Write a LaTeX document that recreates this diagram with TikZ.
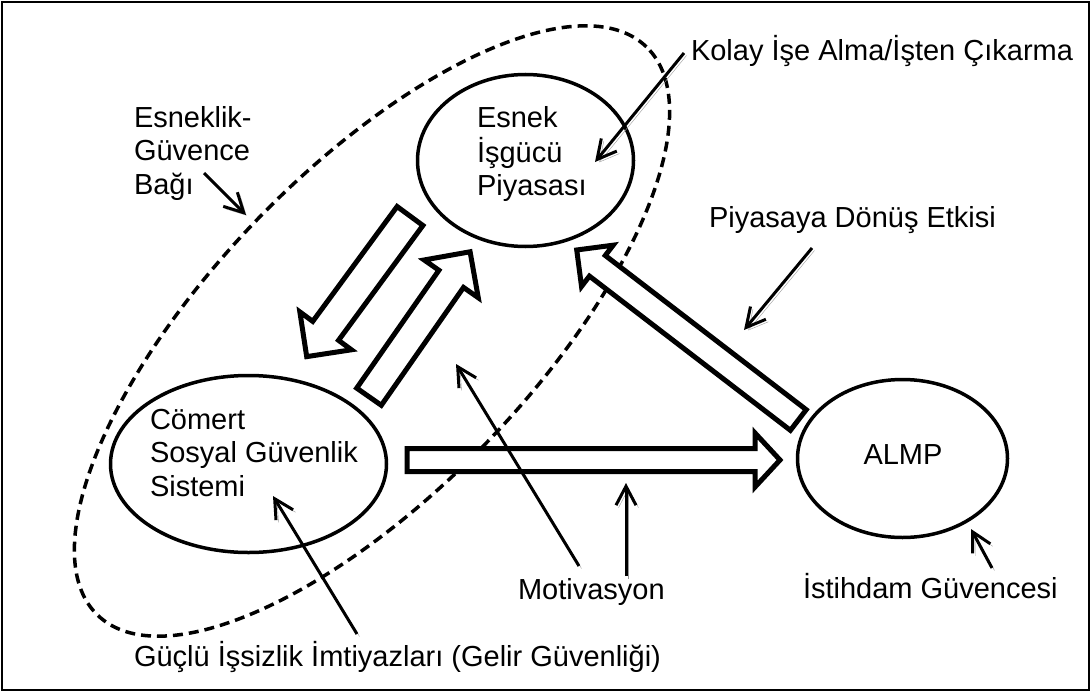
\documentclass[tikz,border=0pt]{standalone}
\usepackage{fontspec}
\setmainfont{Liberation Sans}
\usetikzlibrary{shapes.geometric, arrows.meta}
\newcommand{\stk}[1]{\begin{tabular}[t]{@{}l@{}}#1\end{tabular}}
% block arrow: #1 tail, #2 angle, #3 length, #4 shaft width, #5 head width, #6 head length
\newcommand{\blkarrow}[6]{%
  \begin{scope}[shift={#1}, rotate=#2]
    \draw[blk] (0,-#4/2) -- ({#3-#6},-#4/2) -- ({#3-#6},-#5/2) -- (#3,0)
      -- ({#3-#6},#5/2) -- ({#3-#6},#4/2) -- (0,#4/2) -- cycle;
  \end{scope}}
\begin{document}
\begin{tikzpicture}[x=1pt,y=-1pt,
  every node/.style={font=\fontsize{29}{33.5}\selectfont, inner sep=0pt, outer sep=0pt},
  oval/.style={draw, ellipse, line width=3.5pt},
  blk/.style={draw, line width=5pt, fill=white, line join=miter, miter limit=10},
  thinarr/.style={line width=3pt, -{Straight Barb[length=19pt,width=20pt]},
    preaction={draw=black!40, transform canvas={xshift=2.5pt,yshift=-2.5pt}}},
  link/.style={line width=3.5pt, dash pattern=on 10pt off 6pt}
]
\useasboundingbox (0,0) rectangle (1092,693);
\draw[line width=2.5pt] (2,2) rectangle (1089,690);

% dashed flexicurity link
\draw[link, rotate around={46:(372,331)}] (372,331) ellipse [x radius=395pt, y radius=160pt];

% ellipses
\node[oval, minimum width=216, minimum height=172] (esnek) at (525.5,160.5) {};
\node[oval, minimum width=276, minimum height=177] (comert) at (248.5,464) {};
\node[oval, minimum width=210, minimum height=158] (almp) at (902.5,458.5) {};

% texts in ellipses
\node[anchor=base west] (esnekT) at (477,127) {\stk{Esnek\\İşgücü\\Piyasası}};
\node[anchor=base west] (comertT) at (150,429) {\stk{Cömert\\Sosyal Güvenlik\\Sistemi}};
\node[anchor=base] (almpT) at (903,464) {ALMP};

% block arrows
\blkarrow{(410,216)}{233.7}{174.5}{32}{64}{32}
\blkarrow{(369,396.7)}{55.1}{176.7}{30}{66}{33}
\blkarrow{(407,460)}{0}{373}{23}{54}{25}
\blkarrow{(798.3,420)}{142.5}{279.3}{26}{52}{26}

% labels
\node[anchor=base west] (bagiT) at (134,127) {\stk{Esneklik-\\Güvence\\Bağı}};
\node[anchor=base west] (kolayT) at (691,60) {Kolay İşe Alma/İşten Çıkarma};
\node[anchor=base west] (piyT) at (709,227) {Piyasaya Dönüş Etkisi};
\node[anchor=base west] (motT) at (518,599) {Motivasyon};
\node[anchor=base west] (istT) at (803,598) {İstihdam Güvencesi};
\node[anchor=base west] (gucT) at (134,666) {Güçlü İşsizlik İmtiyazları (Gelir Güvenliği)};

% pointer arrows
\coordinate (bagiS) at (204,173);   \coordinate (bagiE) at (246,215);
\coordinate (kolayS) at (684,53);   \coordinate (kolayE) at (595,162);
\coordinate (piyS) at (812,248);    \coordinate (piyE) at (744,330);
\coordinate (motS1) at (579,566);   \coordinate (motE1) at (456,364);
\coordinate (motS2) at (626,576);   \coordinate (motE2) at (626,483);
\coordinate (gucS) at (357,634);    \coordinate (gucE) at (273,496);
\coordinate (istS) at (992,568);    \coordinate (istE) at (971,529);

\draw[thinarr] (bagiS) -- (bagiE);
\draw[thinarr] (kolayS) -- (kolayE);
\draw[thinarr] (piyS) -- (piyE);
\draw[thinarr] (motS1) -- (motE1);
\draw[thinarr] (motS2) -- (motE2);
\draw[thinarr] (gucS) -- (gucE);
\draw[thinarr] (istS) -- (istE);
\end{tikzpicture}
\end{document}
